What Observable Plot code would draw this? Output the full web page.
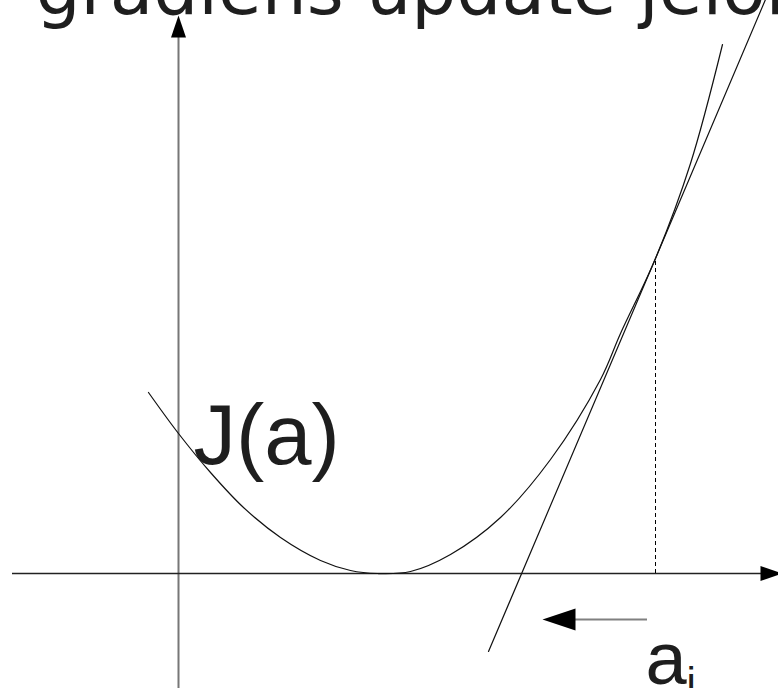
<!DOCTYPE html>
<html><head><meta charset="utf-8">
<script src="https://cdn.jsdelivr.net/npm/d3@7"></script>
<script src="https://cdn.jsdelivr.net/npm/@observablehq/plot@0.6"></script>
<style>
html,body{margin:0;padding:0;background:#fff;overflow:hidden}
#chart svg{display:block}
</style>
</head><body><div id="chart"></div>
<script>
// Cost curve J(a) (a along x, J along y; origin at the axes' crossing)
const curveA = [-0.30, 0.00, 0.32, 0.65, 1.02, 1.42, 1.72, 1.99, 2.32, 2.72, 3.22, 3.72, 4.22, 4.42, 4.77, 5.12, 5.44];
const curveJ = [ 1.81, 1.40, 1.01, 0.66, 0.36, 0.13, 0.03, 0.00, 0.02, 0.19, 0.56, 1.14, 1.94, 2.40, 3.15, 4.10, 5.29];

// current point a_i and its tangent
const pointA = [4.77];
const pointJ = [3.15];
const tangentA = [3.10, 5.87];
const tangentJ = [-0.78, 5.74];

// axes extents
const axisXA = [-1.66, 6.04];
const axisYJ = [-1.16, 5.58];

// update step arrow (toward smaller a)
const stepA = [4.69, 3.64];
const stepJ = [-0.46, -0.46];

// texts
const titleText = ["gradiens update jelölés"];
const labelText = ["J(a)", "a", "i"];
const labelA = [0.15, 4.67, 5.08];
const labelJ = [1.10, -1.10, -1.23];
const titleA = [-1.43];
const titleJ = [5.60];

const tri = (len, wid) => ({draw(ctx) {
  ctx.moveTo(0, 0); ctx.lineTo(wid / 2, len); ctx.lineTo(-wid / 2, len); ctx.closePath();
}});
const axisHead = tri(22, 15);
const stepHead = tri(33, 22);

const curve = curveA.map((a, i) => ({a, J: curveJ[i]}));
const tangent = tangentA.map((a, i) => ({a, J: tangentJ[i]}));

const chart = Plot.plot({
  width: 778, height: 688, margin: 0,
  x: {domain: [-1.78, 6.00], axis: null},
  y: {domain: [-1.15, 5.73], axis: null},
  marks: [
    Plot.ruleX([0], {y1: axisYJ[0], y2: axisYJ[1] - 0.2, stroke: "#777", strokeWidth: 2}),
    Plot.ruleY([0], {x1: axisXA[0], x2: axisXA[1] - 0.2, stroke: "#222", strokeWidth: 1.5}),
    Plot.dot([{a: 0, J: axisYJ[1]}], {x: "a", y: "J", symbol: axisHead, fill: "#000", stroke: "none", rotate: 0}),
    Plot.dot([{a: axisXA[1], J: 0}], {x: "a", y: "J", symbol: axisHead, fill: "#000", stroke: "none", rotate: 90}),
    Plot.ruleX(pointA, {y1: 0, y2: pointJ[0], stroke: "#000", strokeWidth: 1, strokeDasharray: "4,3"}),
    Plot.line(curve, {x: "a", y: "J", curve: "catmull-rom", stroke: "#111", strokeWidth: 1.2}),
    Plot.line(tangent, {x: "a", y: "J", stroke: "#111", strokeWidth: 1.2}),
    Plot.ruleY([stepJ[0]], {x1: stepA[0], x2: stepA[1] + 0.3, stroke: "#808080", strokeWidth: 2}),
    Plot.dot([{a: stepA[1], J: stepJ[1]}], {x: "a", y: "J", symbol: stepHead, fill: "#000", stroke: "none", rotate: -90}),
    Plot.text(titleText, {x: titleA, y: titleJ, text: d => d, textAnchor: "start", lineAnchor: "bottom",
      fontFamily: "DejaVu Sans", fontSize: 71, fill: "#1e1e1e"}),
    Plot.text([labelText[0]], {x: [labelA[0]], y: [labelJ[0]], text: d => d, textAnchor: "start", lineAnchor: "bottom",
      fontFamily: "Liberation Sans", fontSize: 85, fill: "#1e1e1e"}),
    Plot.text([labelText[1]], {x: [labelA[1]], y: [labelJ[1]], text: d => d, textAnchor: "start", lineAnchor: "bottom",
      fontFamily: "Liberation Sans", fontSize: 74, fill: "#1e1e1e"}),
    Plot.text([labelText[2]], {x: [labelA[2]], y: [labelJ[2]], text: d => d, textAnchor: "start", lineAnchor: "bottom",
      fontFamily: "Liberation Sans", fontSize: 42, fill: "#1e1e1e"})
  ]
});
document.getElementById("chart").appendChild(chart);
</script>
</body></html>
